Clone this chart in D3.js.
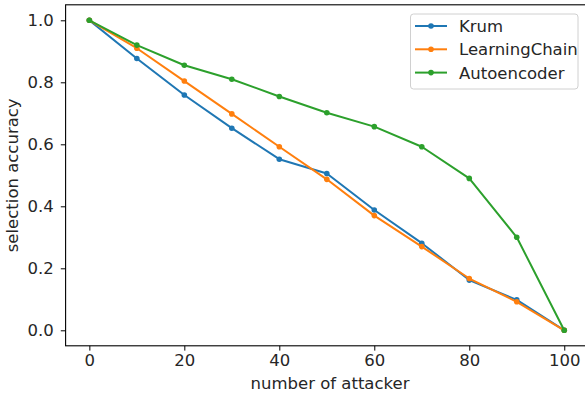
<!DOCTYPE html>
<html><head><meta charset="utf-8">
<script src="https://cdn.jsdelivr.net/npm/d3@7"></script>
<style>
html,body{margin:0;padding:0;background:#fff;}
svg{display:block;font-family:"DejaVu Sans",sans-serif;}
</style></head>
<body>
<svg id="chart" width="585" height="394"></svg>
<script>
const attackers = [0,10,20,30,40,50,60,70,80,90,100];
const krum = [1.0,0.877,0.759,0.652,0.552,0.506,0.388,0.281,0.162,0.098,0.0];
const learningChain = [1.0,0.910,0.804,0.698,0.592,0.487,0.370,0.270,0.167,0.092,0.0];
const autoencoder = [1.0,0.920,0.855,0.810,0.754,0.702,0.657,0.592,0.490,0.300,0.0];
const seriesNames = ["Krum","LearningChain","Autoencoder"];
const colors = ["#1f77b4","#ff7f0e","#2ca02c"];
const xTicks = [0,20,40,60,80,100];
const yTicks = [0.0,0.2,0.4,0.6,0.8,1.0];
const xLabel = "number of attacker";
const yLabel = "selection accuracy";

const svg = d3.select("#chart");
const L = 65.6, R = 588, T = 4.8, B = 345.8;
const x = d3.scaleLinear().domain([-5,105]).range([L,R]);
const y = d3.scaleLinear().domain([-0.05,1.05]).range([B,T]);

const fs = 16.5;
// axes
const xAxis = d3.axisBottom(x).tickValues(xTicks).tickFormat(d3.format("d")).tickSize(4.8).tickPadding(4);
const yAxis = d3.axisLeft(y).tickValues(yTicks).tickFormat(d3.format(".1f")).tickSize(4.8).tickPadding(7);
const gx = svg.append("g").attr("transform",`translate(0,${B})`).call(xAxis);
const gy = svg.append("g").attr("transform",`translate(${L},0)`).call(yAxis);
[gx,gy].forEach(g=>{
  g.attr("font-family",null).attr("font-size",null);
  g.select(".domain").remove();
  g.selectAll(".tick line").attr("stroke","#000").attr("stroke-width",1);
  g.selectAll(".tick text").attr("font-size",fs).attr("fill","#262626").style("font-family","DejaVu Sans");
});

// series
const data = [krum, learningChain, autoencoder];
const line = d3.line().x((d,i)=>x(attackers[i])).y(d=>y(d));
data.forEach((vals,k)=>{
  svg.append("path").datum(vals).attr("d",line).attr("fill","none")
    .attr("stroke",colors[k]).attr("stroke-width",2).attr("stroke-linejoin","round").attr("stroke-linecap","square");
  svg.append("g").selectAll("circle").data(vals).join("circle")
    .attr("cx",(d,i)=>x(attackers[i])).attr("cy",d=>y(d)).attr("r",2.8).attr("fill",colors[k]);
});

// spines
svg.append("rect").attr("x",L).attr("y",T).attr("width",R-L).attr("height",B-T)
  .attr("fill","none").attr("stroke","#000").attr("stroke-width",1.1);

// labels
svg.append("text").attr("x",330).attr("y",389).attr("text-anchor","middle")
  .attr("font-size",fs).attr("fill","#262626").style("font-family","DejaVu Sans").text(xLabel);
svg.append("text").attr("transform",`translate(18,${(T+B)/2}) rotate(-90)`).attr("text-anchor","middle")
  .attr("font-size",fs).attr("fill","#262626").style("font-family","DejaVu Sans").text(yLabel);

// legend
const lg = svg.append("g");
lg.append("rect").attr("x",410.5).attr("y",14).attr("width",167.5).attr("height",75).attr("rx",3)
  .attr("fill","#fff").attr("fill-opacity",0.8).attr("stroke","#d0d0d0").attr("stroke-width",1);
seriesNames.forEach((n,k)=>{
  const yy = 26 + k*23.3;
  lg.append("line").attr("x1",415).attr("x2",447).attr("y1",yy).attr("y2",yy)
    .attr("stroke",colors[k]).attr("stroke-width",2);
  lg.append("circle").attr("cx",431).attr("cy",yy).attr("r",2.8).attr("fill",colors[k]);
  lg.append("text").attr("x",459).attr("y",yy).attr("dy","0.36em").attr("font-size",fs)
    .attr("fill","#262626").style("font-family","DejaVu Sans").text(n);
});
</script>
</body></html>
